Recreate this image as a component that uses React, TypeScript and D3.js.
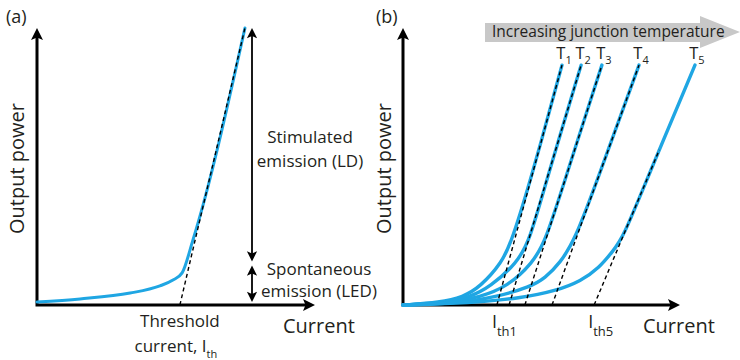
import * as d3 from "d3";

// ---- panel (a): single laser diode curve ----
const aCurrent = [0, 15.5, 33.5, 44.2, 48.9, 52.2, 56.1, 74.8];
const aPower = [1.1, 2.2, 4.3, 6.9, 9.0, 11.6, 23.5, 100];
const aThreshold = 51.4;
// power levels bounding the two regions (spontaneous / stimulated)
const aRegions = [1.1, 15, 100];

// ---- panel (b): curves at five junction temperatures ----
const tempLabels = ["1", "2", "3", "4", "5"];
const currentT1 = [0, 13.4, 21.7, 27.8, 35.7, 39.4, 46.1, 57.4];
const powerT1 = [0, 0.9, 2.9, 6.5, 15.2, 23.5, 45, 86.6];
const currentT2 = [0, 15.2, 24.2, 31.4, 41.2, 45.8, 51.8, 64.3];
const powerT2 = [0, 0.8, 2.9, 6.5, 15.2, 23.5, 45, 86.6];
const currentT3 = [0, 17.0, 27.8, 37.5, 46.9, 51.6, 58.4, 71.8];
const powerT3 = [0, 0.7, 2.9, 6.5, 15.2, 23.5, 45, 86.6];
const currentT4 = [0, 18.8, 33.9, 45.8, 51.3, 56.7, 62.1, 70.1, 85.2];
const powerT4 = [0, 0.6, 2.9, 6.5, 9.7, 15.2, 23.5, 45, 86.6];
const currentT5 = [0, 24.2, 42.6, 55.2, 64.3, 70.8, 75.8, 79.4, 87.9, 105.4];
const powerT5 = [0, 0.7, 2.5, 5.1, 8.7, 13.4, 19.5, 24.2, 45, 86.6];
const thresholds = [33.9, 38.3, 44.0, 53.8, 69.0];
const dashTop = [86.6, 86.6, 86.6, 86.6, 56];

const BLUE = "#1fa6e3";
const INK = "#231f20";
const FONT = "'Open Sans', 'Noto Sans', sans-serif";

const xA = d3.scaleLinear().domain([0, 100]).range([37, 315]);
const yA = d3.scaleLinear().domain([0, 100]).range([305, 28]);
const xB = d3.scaleLinear().domain([0, 100]).range([403, 680]);
const yB = d3.scaleLinear().domain([0, 100]).range([305, 28]);

type Pt = [number, number];

const zip = (c: number[], p: number[]): Pt[] => c.map((v, i) => [v, p[i]]);

function Head({ x, y, rot, s = 1 }: { x: number; y: number; rot: number; s?: number }) {
  return (
    <path
      d={`M0,0 L${-6 * s},${12 * s} L0,${9.5 * s} L${6 * s},${12 * s} Z`}
      transform={`translate(${x},${y}) rotate(${rot})`}
      fill="#000"
    />
  );
}

function Axes({ x, y }: { x: d3.ScaleLinear<number, number>; y: d3.ScaleLinear<number, number> }) {
  const x0 = x(0), y0 = y(0), x1 = x(100), y1 = y(100);
  return (
    <g>
      <path d={`M${x0},${y1 + 8} L${x0},${y0} L${x1 - 8},${y0}`} fill="none" stroke="#000" strokeWidth={3} />
      <Head x={x0} y={y1} rot={0} />
      <Head x={x1} y={y0} rot={90} />
    </g>
  );
}

export default function App() {
  const lineA = d3.line<Pt>().x(d => xA(d[0])).y(d => yA(d[1])).curve(d3.curveMonotoneX);
  const lineB = d3.line<Pt>().x(d => xB(d[0])).y(d => yB(d[1])).curve(d3.curveBasis);

  const aPts = zip(aCurrent, aPower);
  const aEnd = aPts[aPts.length - 1];

  const seriesB = [
    zip(currentT1, powerT1),
    zip(currentT2, powerT2),
    zip(currentT3, powerT3),
    zip(currentT4, powerT4),
    zip(currentT5, powerT5),
  ];

  const arrowX = 252;

  return (
    <svg
      width={740}
      height={360}
      style={{ position: "absolute", left: 0, top: 0, fontFamily: FONT }}
    >
      <rect width={740} height={360} fill="#fff" />

      {/* ===== (a) ===== */}
      <text x={6} y={23} fontSize={18} fill={INK}>(a)</text>
      <Axes x={xA} y={yA} />
      <text transform={`translate(24,${(yA(0) + yA(100)) / 2 + 2}) rotate(-90)`} textAnchor="middle" fontSize={20} fill={INK}>
        Output power
      </text>
      <text x={283} y={333} fontSize={20} fill={INK}>Current</text>

      <path d={lineA(aPts) ?? ""} fill="none" stroke={BLUE} strokeWidth={3} strokeLinecap="round" />
      <line
        x1={xA(aThreshold)} y1={yA(0)} x2={xA(aEnd[0])} y2={yA(aEnd[1])}
        stroke="#000" strokeWidth={1.4} strokeDasharray="4,3"
      />

      {/* region arrows */}
      <line x1={arrowX} x2={arrowX} y1={yA(aRegions[2]) + 6} y2={yA(aRegions[1]) - 2 - 6} stroke="#000" strokeWidth={1.8} />
      <Head x={arrowX} y={yA(aRegions[2])} rot={0} s={0.85} />
      <Head x={arrowX} y={yA(aRegions[1]) - 2} rot={180} s={0.85} />
      <line x1={arrowX} x2={arrowX} y1={yA(aRegions[1]) + 2 + 6} y2={yA(aRegions[0]) - 6} stroke="#000" strokeWidth={1.8} />
      <Head x={arrowX} y={yA(aRegions[1]) + 2} rot={0} s={0.85} />
      <Head x={arrowX} y={yA(aRegions[0])} rot={180} s={0.85} />

      <g fontSize={17} fill={INK} textAnchor="middle">
        <text x={310} y={143}>Stimulated</text>
        <text x={310} y={167}>emission (LD)</text>
        <text x={319} y={275}>Spontaneous</text>
        <text x={319} y={297}>emission (LED)</text>
        <text x={xA(aThreshold)} y={327}>Threshold</text>
        <text x={xA(aThreshold) - 4} y={352}>
          current, I<tspan fontSize={11} dy={6}>th</tspan>
        </text>
      </g>

      {/* ===== (b) ===== */}
      <text x={376} y={23} fontSize={18} fill={INK}>(b)</text>
      <polygon points="485,23 700,23 700,16 740,32 700,48 700,42 485,42" fill="#c8c8c8" />
      <text x={492} y={36.5} fontSize={15.5} fill={INK}>Increasing junction temperature</text>

      <Axes x={xB} y={yB} />
      <text transform={`translate(391,${(yB(0) + yB(100)) / 2 + 2}) rotate(-90)`} textAnchor="middle" fontSize={20} fill={INK}>
        Output power
      </text>
      <text x={643} y={333} fontSize={20} fill={INK}>Current</text>

      {seriesB.map((pts, i) => (
        <path key={`c${i}`} d={lineB(pts) ?? ""} fill="none" stroke={BLUE} strokeWidth={3.4} strokeLinecap="round" />
      ))}
      {seriesB.map((pts, i) => {
        const top = pts[pts.length - 1];
        const th = thresholds[i];
        const endC = th + (top[0] - th) * (dashTop[i] / top[1]);
        return (
          <line
            key={`d${i}`}
            x1={xB(th)} y1={yB(0)} x2={xB(endC)} y2={yB(dashTop[i])}
            stroke="#000" strokeWidth={1.4} strokeDasharray="4,3"
          />
        );
      })}
      {seriesB.map((pts, i) => {
        const top = pts[pts.length - 1];
        return (
          <text key={`t${i}`} x={xB(top[0]) + 2} y={59} fontSize={16.5} fill={INK} textAnchor="middle">
            T<tspan fontSize={11} dy={5}>{tempLabels[i]}</tspan>
          </text>
        );
      })}

      <text x={xB(thresholds[0]) - 5} y={328} fontSize={18} fill={INK}>
        I<tspan fontSize={13} dy={8}>th1</tspan>
      </text>
      <text x={xB(thresholds[4]) - 6} y={328} fontSize={18} fill={INK}>
        I<tspan fontSize={13} dy={8}>th5</tspan>
      </text>
    </svg>
  );
}
